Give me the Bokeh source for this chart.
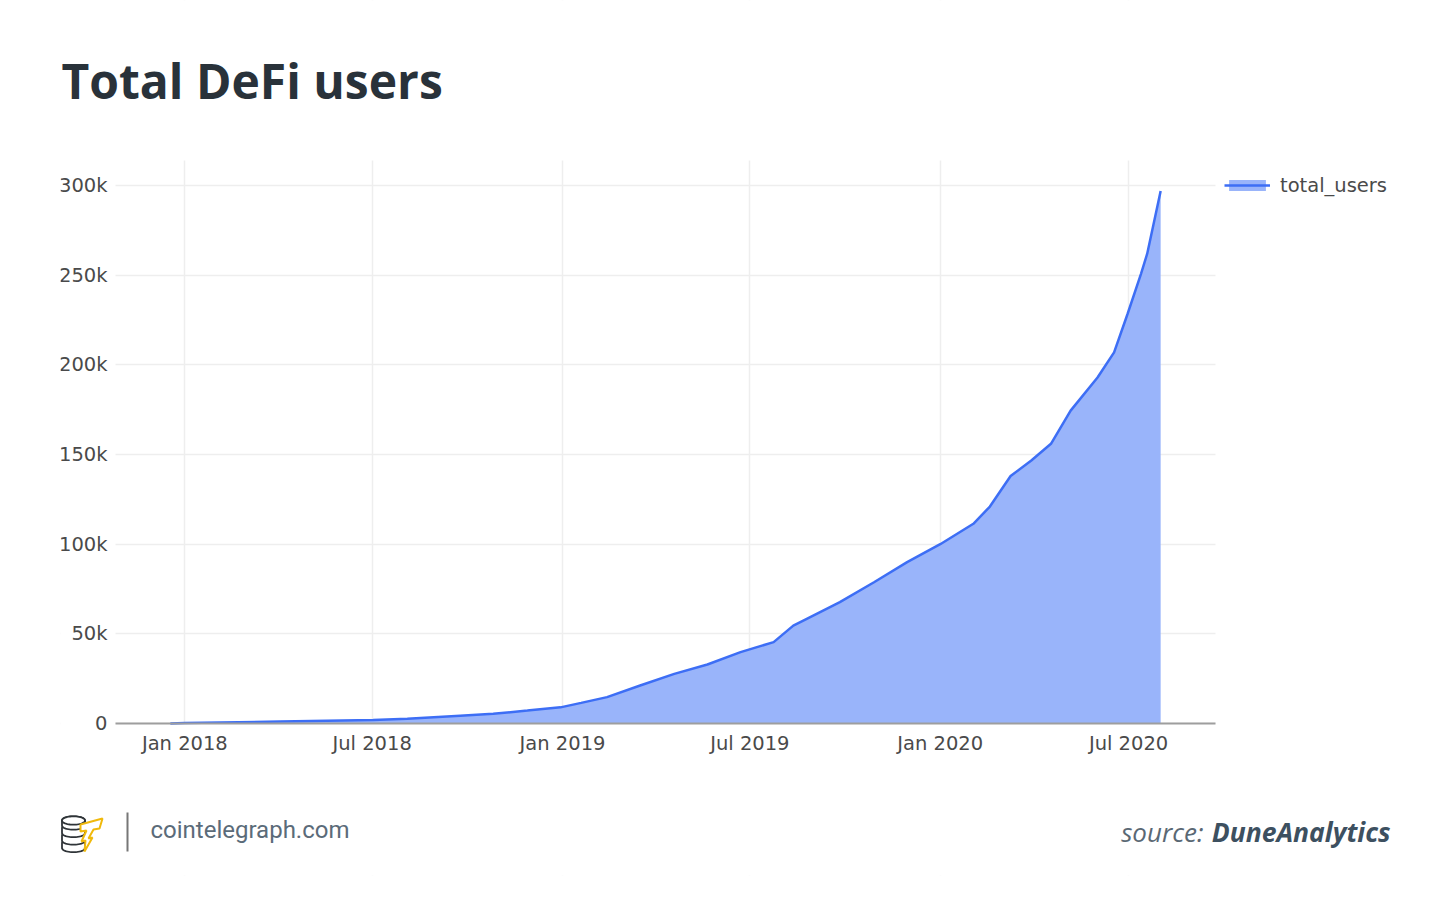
import numpy as np
import pandas as pd
from bokeh.plotting import figure
from bokeh.models import (Range1d, FixedTicker, DatetimeTickFormatter, Legend, LegendItem,
                          Label, ColumnDataSource, BoxAnnotation, PolyAnnotation)
from bokeh.embed import file_html
from bokeh.resources import INLINE

# ---- data ----
dates = ["2017-12-18", "2018-01-01", "2018-04-03", "2018-07-02", "2018-08-04", "2018-09-24",
         "2018-10-26", "2018-11-28", "2018-12-30", "2019-01-19", "2019-02-13", "2019-03-17",
         "2019-04-19", "2019-05-21", "2019-06-22", "2019-07-24", "2019-08-12", "2019-08-25",
         "2019-09-26", "2019-10-29", "2019-11-30", "2020-01-01", "2020-02-02", "2020-02-18",
         "2020-03-09", "2020-03-29", "2020-04-17", "2020-05-06", "2020-06-01", "2020-06-17",
         "2020-06-30", "2020-07-13", "2020-07-19", "2020-08-01"]
total_users = [0, 300, 1100, 2000, 2600, 4300,
               5400, 7200, 9000, 11500, 14700, 21200,
               27700, 32900, 39800, 45400, 54600, 58400,
               67700, 78800, 90000, 100000, 111400, 121000,
               138000, 146700, 156000, 174500, 193000, 207000,
               228400, 250800, 262000, 297000]
series_name = "total_users"

x_tick_dates = ["2018-01-01", "2018-07-01", "2019-01-01", "2019-07-01", "2020-01-01", "2020-07-01"]
y_tick_values = [0, 50000, 100000, 150000, 200000, 250000, 300000]
y_tick_labels = ["0", "50k", "100k", "150k", "200k", "250k", "300k"]

title_text = "Total DeFi users"
site_text = "cointelegraph.com"
source_prefix = "source:"
source_name = "DuneAnalytics"

# ---- layout numbers (page pixels) ----
PLOT_L, PLOT_R, PLOT_T, PLOT_B = 115, 1215, 160, 723     # data region
BORDER_L, BORDER_B = 60, 36
CANVAS_W, CANVAS_H = 1449, 911
FRAME_L, FRAME_T = BORDER_L, 0
FRAME_R, FRAME_B = CANVAS_W, CANVAS_H - BORDER_B
FRAME_W, FRAME_H = FRAME_R - FRAME_L, FRAME_B - FRAME_T

ms = lambda d: pd.Timestamp(d).value / 1e6
x_start, x_data_end = ms("2017-10-26"), ms("2020-09-23")
y_data_top = 314000
kx = (x_data_end - x_start) / (PLOT_R - PLOT_L)
ky = y_data_top / (PLOT_B - PLOT_T)

p = figure(frame_width=FRAME_W, frame_height=FRAME_H, x_axis_type="datetime",
           x_range=Range1d(x_start - (PLOT_L - FRAME_L) * kx, x_data_end + (FRAME_R - PLOT_R) * kx),
           y_range=Range1d(-(FRAME_B - PLOT_B) * ky, y_data_top + (PLOT_T - FRAME_T) * ky),
           output_backend="svg", toolbar_location=None,
           min_border_left=BORDER_L, min_border_right=0, min_border_top=0,
           min_border_bottom=BORDER_B)
p.outline_line_color = None
p.background_fill_color = "white"
p.border_fill_color = "white"

src = ColumnDataSource(dict(x=pd.to_datetime(dates), y=total_users))
area = p.varea(x="x", y1=0, y2="y", source=src, fill_color="#99b4fa", fill_alpha=1.0)
line = p.line(x="x", y="y", source=src, line_color="#3d6ef5", line_width=2.5)

xt = FixedTicker(ticks=[ms(d) for d in x_tick_dates])
p.xaxis.ticker = xt
p.xgrid.ticker = xt
fmt = "%b %Y"
p.xaxis.formatter = DatetimeTickFormatter(days=fmt, months=fmt, years=fmt, hours=fmt,
                                          minutes=fmt, seconds=fmt, milliseconds=fmt,
                                          microseconds=fmt, hourmin=fmt, minsec=fmt)
p.xaxis.bounds = (x_start, x_data_end)
p.xaxis.fixed_location = 0
yt = FixedTicker(ticks=y_tick_values)
p.yaxis.ticker = yt
p.ygrid.ticker = yt
p.yaxis.major_label_overrides = {v: s for v, s in zip(y_tick_values, y_tick_labels)}
p.yaxis.fixed_location = x_start

for ax in (p.xaxis, p.yaxis):
    ax.major_tick_line_color = None
    ax.minor_tick_line_color = None
    ax.major_tick_out = 0
    ax.major_tick_in = 0
    ax.minor_tick_out = 0
    ax.major_label_text_font = "DejaVu Sans"
    ax.major_label_text_font_size = "19.5px"
    ax.major_label_text_color = "#4a4a4a"
p.xaxis.axis_line_color = "#9e9e9e"
p.xaxis.axis_line_width = 2
p.xaxis.major_label_standoff = 8
p.yaxis.axis_line_color = None
p.yaxis.major_label_standoff = 8

p.xgrid.grid_line_color = "#eeeeee"
p.ygrid.grid_line_color = "#eeeeee"
p.xgrid.grid_line_width = 1.5
p.ygrid.grid_line_width = 1.5

# white covers keep the grid inside the data region
for kw in (dict(right=x_start), dict(left=x_data_end), dict(bottom=y_data_top), dict(top=0)):
    p.add_layout(BoxAnnotation(fill_color="white", fill_alpha=1.0, line_color=None,
                               level="underlay", **kw))

# screen units relative to frame bottom-left
sx = lambda px: px - FRAME_L
sy = lambda py: FRAME_B - py

legend = Legend(items=[LegendItem(label=series_name, renderers=[area, line])],
                location=(sx(1224), sy(201)), margin=0, padding=9,
                glyph_width=46, glyph_height=14, label_height=32, label_standoff=10,
                label_text_font="DejaVu Sans", label_text_font_size="19.5px",
                label_text_color="#4a4a4a", border_line_color=None,
                background_fill_alpha=0)
p.add_layout(legend, "center")

# ---- title ----
p.add_layout(Label(x=sx(61), y=sy(80), x_units="screen", y_units="screen", text=title_text,
                   text_font="Open Sans", text_font_style="bold", text_font_size="48px",
                   text_color="#29323a", text_baseline="alphabetic", text_align="left"))

# ---- footer ----
p.add_layout(Label(x=sx(150), y=sy(829), x_units="screen", y_units="screen", text=site_text,
                   text_font="Roboto", text_font_size="24px", text_color="#5b6b79",
                   text_baseline="alphabetic", text_align="left"))
p.add_layout(Label(x=sx(1390), y=sy(831), x_units="screen", y_units="screen", text=source_name,
                   text_font="Open Sans", text_font_style="bold italic", text_font_size="26.5px",
                   text_color="#3d5060", text_baseline="alphabetic", text_align="right"))
p.add_layout(Label(x=sx(1203), y=sy(831), x_units="screen", y_units="screen", text=source_prefix,
                   text_font="Open Sans", text_font_style="italic", text_font_size="26px",
                   text_color="#5a6874", text_baseline="alphabetic", text_align="right"))
p.add_layout(BoxAnnotation(left=sx(126), right=sx(128), top=sy(812), bottom=sy(851),
                           left_units="screen", right_units="screen",
                           top_units="screen", bottom_units="screen",
                           fill_color="#777777", fill_alpha=1, line_color=None))

# logo (decorative): stack of coins + yellow bolt
def poly(pts, color, width):
    p.add_layout(PolyAnnotation(xs=[float(sx(a)) for a, b in pts], ys=[float(sy(b)) for a, b in pts],
                                xs_units="screen", ys_units="screen",
                                fill_color="white", fill_alpha=1,
                                line_color=color, line_alpha=1, line_width=width))

cx, rx, ry = 73, 11.5, 4.2
t = np.linspace(0, np.pi, 24)
for i in [3, 2, 1, 0]:
    cy = 820 + 7.5 * i
    pts = [(cx - rx * np.cos(a), cy - ry * np.sin(a)) for a in t] + \
          [(cx + rx * np.cos(a), cy + 5 + ry * np.sin(a)) for a in t]
    poly(pts, "#2f3438", 1.8)
poly([(cx + rx * np.cos(a), 820 + ry * np.sin(a)) for a in np.linspace(0, 2 * np.pi, 48)],
     "#2f3438", 1.8)
poly([(80, 824), (102, 818), (99, 828), (93, 829), (88, 838), (92, 837), (84, 851),
      (85, 840), (81, 841), (86, 830), (80, 831)], "#f0b90b", 2.0)

open("out.html", "w").write(file_html(p, INLINE))
